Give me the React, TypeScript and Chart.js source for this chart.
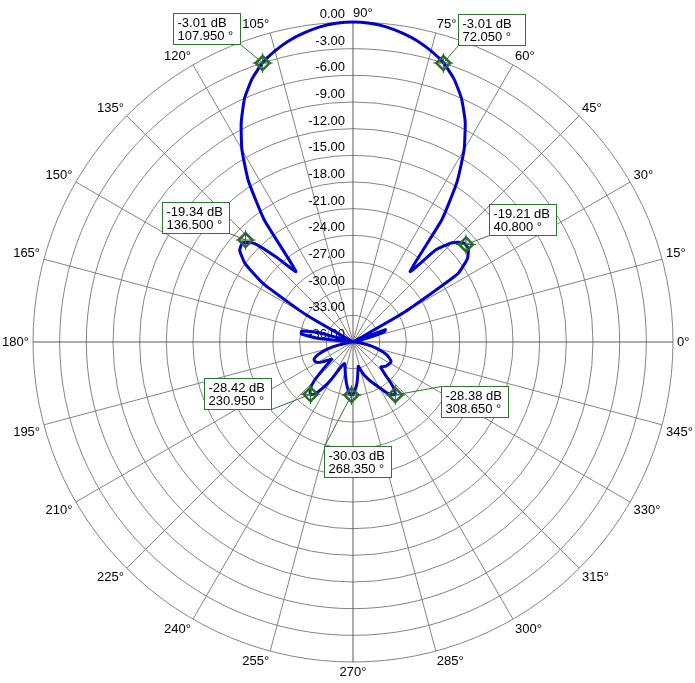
import { useEffect, useRef } from "react";
import { Chart, registerables } from "chart.js";

Chart.register(...registerables);

// pattern level in dB, read every 3°, counter-clockwise from 0° (east)
const ANGLE_STEP = 3;
const quadrant1Db = [
  -36, -36, -36, -36, -36, -34.5, -32.3, -32.1, -36, -36,
  -29.5, -22.0, -20.1, -19.3, -19.3, -20.2, -22.0, -25.8, -19.0, -14.5,
  -11.0, -8.2, -6.0, -4.3, -3.0, -2.1, -1.35, -0.8, -0.35, -0.1,
];
const quadrant2Db = [
  0, -0.1, -0.35, -0.8, -1.35, -2.1, -3.0, -4.3, -6.0, -8.3,
  -11.0, -14.4, -19.0, -25.8, -23.2, -20.3, -19.3, -19.6, -21.0, -24.0,
  -30.0, -36, -36, -36, -36, -31.8, -30.1, -30.1, -32.0, -36,
];
const quadrant3Db = [
  -36, -36, -36, -35.5, -34.2, -33.2, -32.3, -31.6, -31.2, -31.2,
  -31.4, -31.9, -32.5, -32.9, -31.6, -29.8, -28.8, -28.4, -28.8, -29.9,
  -31.2, -32.5, -33.2, -33.4, -33.1, -32.6, -32.0, -31.3, -30.6, -30.1,
];
const quadrant4Db = [
  -30.1, -30.7, -31.5, -32.5, -33.2, -32.8, -32.2, -31.7, -31.2, -30.7,
  -30.1, -29.3, -28.7, -28.4, -29.3, -31.0, -31.8, -31.6, -31.4, -31.3,
  -31.2, -31.2, -31.5, -31.9, -32.6, -33.3, -34.0, -34.8, -35.5, -36,
];

const radialTicks = [0, -3, -6, -9, -12, -15, -18, -21, -24, -27, -30, -33, -36];
const angleTicks = [0, 15, 30, 45, 60, 75, 90, 105, 120, 135, 150, 165, 180, 195, 210, 225, 240, 255, 270, 285, 300, 315, 330, 345];

// marker readouts
const markerDb = [-3.01, -3.01, -19.34, -19.21, -28.42, -30.03, -28.38];
const markerAngle = [107.95, 72.05, 136.5, 40.8, 230.95, 268.35, 308.65];
// where each readout box sits, relative to its marker (px)
const boxOffsets = [
  [-90, -50], [15, -49], [-84, -38], [23, -40], [-107, -16], [-27, 51], [46, -9],
];

const FONT = '13px "Liberation Sans", Arial, sans-serif';
const GREEN = "#2f7431";

const allDb = [...quadrant1Db, ...quadrant2Db, ...quadrant3Db, ...quadrant4Db];
// radar index 0 is at the top and runs clockwise, so walk the angles downward from 90°
const radarAngles = allDb.map((_, i) => (90 - i * ANGLE_STEP + 360) % 360);
const radarDb = radarAngles.map(a => allDb[a / ANGLE_STEP]);

const polarOverlay = {
  id: "polarOverlay",
  beforeDatasetsDraw(chart: any) {
    const scale = chart.scales.r;
    const ctx = chart.ctx as CanvasRenderingContext2D;
    ctx.save();
    ctx.font = FONT;
    ctx.fillStyle = "#000";

    // dB labels up the 90° spoke
    ctx.textAlign = "right";
    ctx.textBaseline = "alphabetic";
    radialTicks.forEach(v => {
      const d = scale.getDistanceFromCenterForValue(v);
      ctx.fillText(v.toFixed(2), scale.xCenter - 8, scale.yCenter - d - 4);
    });

    // angle labels round the rim
    angleTicks.forEach(a => {
      const rad = (a * Math.PI) / 180;
      const d = scale.drawingArea + 4;
      const c = Math.cos(rad);
      const s = Math.sin(rad);
      const x = scale.xCenter + d * c;
      const y = scale.yCenter - d * s;
      ctx.textAlign = c > 0.1 || a === 90 ? "left" : c < -0.1 ? "right" : "center";
      let ty = y;
      if (s > 0.1) {
        ctx.textBaseline = "alphabetic";
        ty = y - 1;
      } else if (s < -0.1) {
        ctx.textBaseline = "top";
        ty = y;
      } else {
        ctx.textBaseline = "middle";
      }
      ctx.fillText(a + "°", x, ty);
    });
    ctx.restore();
  },
  afterDatasetsDraw(chart: any) {
    const scale = chart.scales.r;
    const ctx = chart.ctx as CanvasRenderingContext2D;
    ctx.save();
    ctx.font = FONT;
    markerDb.forEach((db, i) => {
      const rad = (markerAngle[i] * Math.PI) / 180;
      const d = scale.getDistanceFromCenterForValue(db);
      const mx = scale.xCenter + d * Math.cos(rad);
      const my = scale.yCenter - d * Math.sin(rad);
      const bw = 67;
      const bh = 31;
      const bx = Math.round(mx + boxOffsets[i][0]) + 0.5;
      const by = Math.round(my + boxOffsets[i][1]) + 0.5;

      // leader from nearest box corner
      let best = [bx, by];
      let bestDist = Infinity;
      [[bx, by], [bx + bw, by], [bx, by + bh], [bx + bw, by + bh]].forEach(p => {
        const dist = Math.hypot(p[0] - mx, p[1] - my);
        if (dist < bestDist) {
          bestDist = dist;
          best = p;
        }
      });
      ctx.strokeStyle = GREEN;
      ctx.lineWidth = 1;
      ctx.beginPath();
      ctx.moveTo(best[0], best[1]);
      ctx.lineTo(mx, my);
      ctx.stroke();

      ctx.fillStyle = "#fff";
      ctx.fillRect(bx, by, bw, bh);
      ctx.strokeRect(bx, by, bw, bh);
      ctx.fillStyle = "#000";
      ctx.textAlign = "left";
      ctx.textBaseline = "alphabetic";
      ctx.fillText(db.toFixed(2) + " dB", bx + 4, by + 13);
      ctx.fillText(markerAngle[i].toFixed(3) + " °", bx + 4, by + 26);

      // diamond marker with cross hair
      ctx.strokeStyle = "#2b6a2d";
      ctx.lineWidth = 1;
      ctx.beginPath();
      ctx.moveTo(mx - 10, my);
      ctx.lineTo(mx + 10, my);
      ctx.moveTo(mx, my - 10);
      ctx.lineTo(mx, my + 10);
      ctx.stroke();
      ctx.lineWidth = 2.5;
      ctx.beginPath();
      ctx.moveTo(mx, my - 7);
      ctx.lineTo(mx + 7, my);
      ctx.lineTo(mx, my + 7);
      ctx.lineTo(mx - 7, my);
      ctx.closePath();
      ctx.stroke();
    });
    ctx.restore();
  },
};

export default function App() {
  const canvasRef = useRef<HTMLCanvasElement>(null);

  useEffect(() => {
    if (!canvasRef.current) return;
    const chart = new Chart(canvasRef.current, {
      type: "radar",
      data: {
        labels: radarAngles.map(a => String(a)),
        datasets: [
          {
            data: radarDb,
            borderColor: "#0000cc",
            borderWidth: 3,
            borderJoinStyle: "round",
            pointRadius: 0,
            pointHitRadius: 0,
            fill: false,
            tension: 0.15,
          },
        ],
      },
      options: {
        animation: false,
        responsive: true,
        maintainAspectRatio: false,
        events: [],
        layout: { padding: { left: 33, right: 22, top: 22, bottom: 21 } },
        plugins: {
          legend: { display: false },
          tooltip: { enabled: false },
        },
        scales: {
          r: {
            min: -36,
            max: 0,
            startAngle: 0,
            ticks: { display: false, stepSize: 3 },
            pointLabels: { display: false },
            grid: { circular: true, color: "#848484", lineWidth: 1 },
            angleLines: {
              color: (c: any) => (radarAngles[c.index] % 90 === 0 ? "#5a5a5a" : "#848484"),
              lineWidth: (c: any) => (radarAngles[c.index] % 15 === 0 ? 1 : 0),
            },
          },
        },
      },
      plugins: [polarOverlay],
    } as any);

    return () => chart.destroy();
  }, []);

  return (
    <div style={{ position: "absolute", left: 0, top: 0, width: 695, height: 683, background: "#fff" }}>
      <canvas ref={canvasRef} />
    </div>
  );
}
